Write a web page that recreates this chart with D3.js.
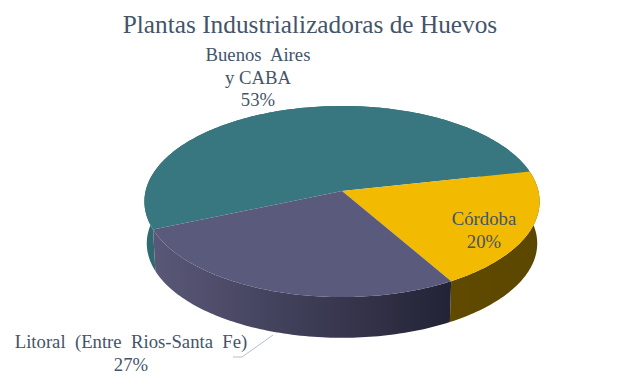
<!DOCTYPE html>
<html>
<head>
<meta charset="utf-8">
<script src="https://cdn.jsdelivr.net/npm/d3@7"></script>
<style>
  html, body { margin: 0; padding: 0; background: #fff; }
  svg { display: block; }
  text { font-family: "Liberation Serif", serif; fill: #44546a; }
</style>
</head>
<body>
<div id="chart"></div>
<script>
const regions = ["Buenos Aires y CABA", "Córdoba", "Litoral (Entre Rios-Santa Fe)"];
const shares = [53, 20, 27];
const topColors = ["#38777f", "#f2ba00", "#5a5a7c"];
const wallColors = [
  ["#2f6a70", "#2f6a70"],
  ["#604a00", "#5c4700"],
  ["#5a5878", "#232336"]
];
const labelLines = [["Buenos  Aires", "y CABA", "53%"], ["Córdoba", "20%"], ["Litoral  (Entre  Rios-Santa  Fe)", "27%"]];
const labelSpots = [[258, 61], [484, 225], [131, 348]];

const width = 624, height = 376;
const cx = 342, cy = 191;      // where the pie centre lands on screen
const rx = 196.4, ry = 94.4;
const tilt = 0.11;             // perspective strength
const depth = 42;
const baseShrink = 0.988;

const svg = d3.select("#chart").append("svg")
  .attr("width", width)
  .attr("height", height);

// disc coordinates -> screen, near edge of the disc looks bigger
function project(angle, r, drop, shrink) {
  const u = Math.sin(angle) * r;
  const v = -Math.cos(angle) * r;
  const w = 1 - tilt * v;
  return [cx + rx * shrink * u / w, cy + drop + ry * shrink * v / w];
}

function rimPoints(a0, a1, drop, shrink) {
  const n = Math.max(2, Math.ceil((a1 - a0) / 0.02));
  return d3.range(n + 1).map(i => project(a0 + (a1 - a0) * i / n, 1, drop, shrink));
}

const pie = d3.pie().sort(null).startAngle(247 * Math.PI / 180).endAngle((247 + 360) * Math.PI / 180);
const slices = pie(shares);
const line = d3.line();

const defs = svg.append("defs");
slices.forEach((s, i) => {
  const xs = rimPoints(s.startAngle, s.endAngle, 0, 1).filter(p => p[1] > cy).map(p => p[0]);
  const grad = defs.append("linearGradient")
    .attr("id", "wall-" + i)
    .attr("gradientUnits", "userSpaceOnUse")
    .attr("x1", d3.min(xs)).attr("y1", 0)
    .attr("x2", d3.max(xs)).attr("y2", 0);
  grad.append("stop").attr("offset", "0%").attr("stop-color", wallColors[i][0]);
  grad.append("stop").attr("offset", "100%").attr("stop-color", wallColors[i][1]);
});

// walls first, the top faces cover whatever is behind
svg.append("g").selectAll("path")
  .data(slices)
  .join("path")
  .attr("d", s => line(rimPoints(s.startAngle, s.endAngle, 0, 1)
    .concat(rimPoints(s.startAngle, s.endAngle, depth, baseShrink).reverse())) + "Z")
  .attr("fill", (s, i) => `url(#wall-${i})`);

svg.append("g").selectAll("path")
  .data(slices)
  .join("path")
  .attr("d", s => line([project(0, 0, 0, 1)].concat(rimPoints(s.startAngle, s.endAngle, 0, 1))) + "Z")
  .attr("fill", (s, i) => topColors[i]);

// Leader line for the Litoral label
svg.append("path")
  .attr("d", line([[273, 335], [242, 357], [233, 357]]))
  .attr("fill", "none")
  .attr("stroke", "#b4bfcc")
  .attr("stroke-width", 1);

// Title
svg.append("text")
  .attr("x", 310)
  .attr("y", 33)
  .attr("text-anchor", "middle")
  .attr("font-size", "25.3px")
  .text("Plantas Industrializadoras de Huevos");

// Labels
regions.forEach((name, i) => {
  const t = svg.append("text")
    .attr("text-anchor", "middle")
    .attr("font-size", "18.7px")
    .attr("aria-label", name);
  labelLines[i].forEach((txt, j) => {
    t.append("tspan")
      .attr("x", labelSpots[i][0])
      .attr("y", labelSpots[i][1] + j * 22.5)
      .style("white-space", "pre")
      .text(txt);
  });
});
</script>
</body>
</html>
